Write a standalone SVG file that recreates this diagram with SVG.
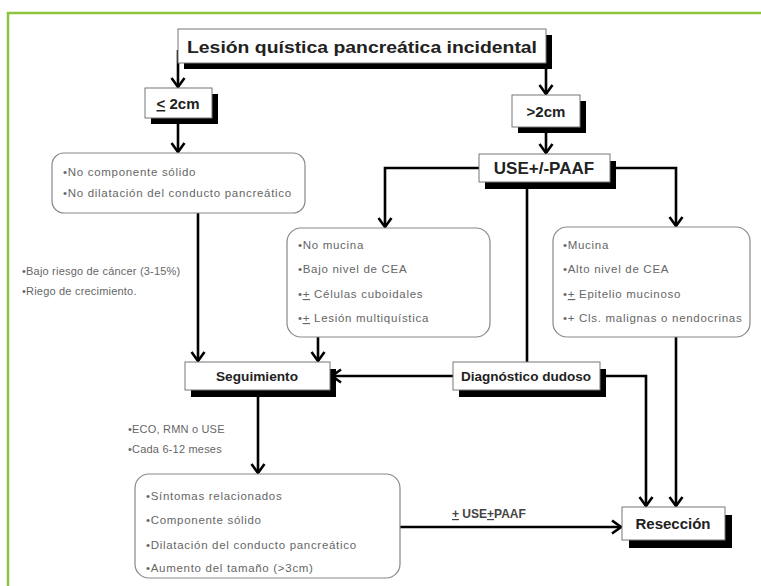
<svg xmlns="http://www.w3.org/2000/svg" width="761" height="586" viewBox="0 0 761 586">
<defs>
<marker id="ah" viewBox="-12 -9 14 18" refX="0" refY="0" markerWidth="14" markerHeight="18" markerUnits="userSpaceOnUse" orient="auto">
<path d="M-9,-6.5 L0,0 L-9,6.5" fill="none" stroke="#000" stroke-width="2.6" stroke-linejoin="miter"/>
</marker>
<style>
.frame{stroke:#8cc43c;stroke-width:2.5;fill:none}
.sh{fill:#000}
.bx{fill:#fff;stroke:#777;stroke-width:1}
.rb{fill:#fff;stroke:#888;stroke-width:1.2}
.lbl{font-family:"Liberation Sans",Arial,sans-serif;font-weight:bold;fill:#222;text-anchor:middle}
.txt{font-family:"Liberation Sans",Arial,sans-serif;font-size:11.5px;letter-spacing:0.7px;fill:#666}
.sm{font-family:"Liberation Sans",Arial,sans-serif;font-size:11px;letter-spacing:0.2px;fill:#666}
.c{fill:none;stroke:#000;stroke-width:2.6}
.ca{fill:none;stroke:#000;stroke-width:2.6;marker-end:url(#ah)}
</style>
</defs>
<rect width="761" height="586" fill="#fff"/>
<path class="frame" d="M8,586 V13 H761"/>

<g id="connectors">
<path class="ca" d="M178,50 V87"/>
<path class="ca" d="M546,63 V94"/>
<path class="ca" d="M178,118 V152"/>
<path class="ca" d="M546,127 V153"/>
<path class="ca" d="M479,168 H385 V227"/>
<path class="ca" d="M616,168 H676 V226"/>
<path class="c" d="M527,188 V362"/>
<path class="ca" d="M198,213 V361"/>
<path class="ca" d="M318,337 V361"/>
<path class="ca" d="M453,376 H332"/>
<path class="ca" d="M606,376 H646 V506"/>
<path class="ca" d="M676,337 V506"/>
<path class="ca" d="M258,397 V473"/>
<path class="ca" d="M400,527 H621"/>
<text x="452" y="518" style="font-family:'Liberation Sans',Arial,sans-serif;font-size:12px;font-weight:bold;fill:#444"><tspan text-decoration="underline">+</tspan> USE<tspan text-decoration="underline">+</tspan>PAAF</text>
</g>

<g id="n-title">
<rect class="sh" x="184" y="35" width="368" height="34"/>
<rect class="bx" x="178" y="29" width="368" height="34"/>
<text class="lbl" x="362" y="53" font-size="17" textLength="350" lengthAdjust="spacingAndGlyphs">Lesión quística pancreática incidental</text>
</g>

<g id="n-le2">
<rect class="sh" x="151" y="94" width="67" height="30"/>
<rect class="bx" x="145" y="88" width="67" height="30"/>
<text class="lbl" x="178" y="109" font-size="15"><tspan text-decoration="underline">&lt;</tspan> 2cm</text>
</g>

<g id="n-gt2">
<rect class="sh" x="518" y="101" width="68" height="32"/>
<rect class="bx" x="512" y="95" width="68" height="32"/>
<text class="lbl" x="546" y="117" font-size="15">&gt;2cm</text>
</g>

<g id="n-nosolid">
<rect class="rb" x="52" y="153" width="253" height="60" rx="12"/>
<text class="txt" x="63" y="176">•No componente sólido</text>
<text class="txt" x="63" y="197">•No  dilatación del conducto pancreático</text>
</g>

<g id="n-use">
<rect class="sh" x="485" y="161" width="131" height="28"/>
<rect class="bx" x="479" y="154" width="131" height="28"/>
<text class="lbl" x="544" y="174" font-size="17">USE+/-PAAF</text>
</g>

<g id="n-nomucina">
<rect class="rb" x="287" y="228" width="203" height="109" rx="14"/>
<text class="txt" x="298" y="249">•No mucina</text>
<text class="txt" x="298" y="273">•Bajo nivel de CEA</text>
<text class="txt" x="298" y="298">•<tspan text-decoration="underline">+</tspan> Células cuboidales</text>
<text class="txt" x="298" y="322">•<tspan text-decoration="underline">+</tspan> Lesión multiquística</text>
</g>

<g id="n-mucina">
<rect class="rb" x="553" y="227" width="197" height="110" rx="14"/>
<text class="txt" x="563" y="249">•Mucina</text>
<text class="txt" x="563" y="273">•Alto nivel de CEA</text>
<text class="txt" x="563" y="298">•<tspan text-decoration="underline">+</tspan> Epitelio mucinoso</text>
<text class="txt" x="563" y="322">•+ Cls. malignas  o nendocrinas</text>
</g>

<g id="n-riesgo">
<text class="sm" x="22" y="275">•Bajo riesgo de cáncer (3-15%)</text>
<text class="sm" x="22" y="295">•Riego de crecimiento.</text>
</g>

<g id="n-seguimiento">
<rect class="sh" x="191" y="369" width="145" height="28"/>
<rect class="bx" x="185" y="362" width="145" height="28"/>
<text class="lbl" x="257" y="381" font-size="13.5" textLength="82" lengthAdjust="spacingAndGlyphs">Seguimiento</text>
</g>

<g id="n-dudoso">
<rect class="sh" x="459" y="369" width="147" height="28"/>
<rect class="bx" x="453" y="362" width="147" height="28"/>
<text class="lbl" x="526" y="381" font-size="13.5" textLength="130" lengthAdjust="spacingAndGlyphs">Diagnóstico dudoso</text>
</g>

<g id="n-eco">
<text class="sm" x="128" y="433">•ECO, RMN o USE</text>
<text class="sm" x="128" y="453">•Cada 6-12 meses</text>
</g>

<g id="n-sintomas">
<rect class="rb" x="135" y="474" width="265" height="104" rx="14"/>
<text class="txt" x="146" y="500">•Síntomas relacionados</text>
<text class="txt" x="146" y="524">•Componente sólido</text>
<text class="txt" x="146" y="549">•Dilatación del conducto pancreático</text>
<text class="txt" x="146" y="572">•Aumento del tamaño (&gt;3cm)</text>
</g>

<g id="n-reseccion">
<rect class="sh" x="629" y="515" width="103" height="33"/>
<rect class="bx" x="622" y="507" width="103" height="33"/>
<text class="lbl" x="673" y="529" font-size="15">Resección</text>
</g>
</svg>
